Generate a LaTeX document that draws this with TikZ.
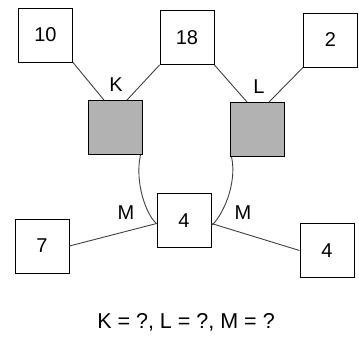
\documentclass[tikz,border=0pt]{standalone}
\usepackage{fontspec}
\setmainfont{Liberation Sans}
\begin{document}
\begin{tikzpicture}[x=1pt,y=-1pt,
  numbox/.style={draw,line width=0.9pt,minimum width=54pt,minimum height=54pt,inner sep=0pt,font=\fontsize{20}{24}\selectfont},
  graybox/.style={numbox,fill=black!30},
  lbl/.style={font=\fontsize{20}{24}\selectfont,inner sep=0pt},
  conn/.style={line width=0.9pt,black!75}]
\useasboundingbox (0,0) rectangle (359,338);
\node[numbox] (n10) at (45.5,35) {10};
\node[numbox] (n18) at (187,37.5) {18};
\node[numbox] (n2) at (330.5,40) {2};
\node[graybox] (k) at (115,127.5) {};
\node[graybox] (l) at (257,129.5) {};
\node[numbox] (c4) at (184,220.5) {4};
\node[numbox] (n7) at (42,246) {7};
\node[numbox] (r4) at (327,250.5) {4};
\node[lbl] (lk) at (116,85) {K};
\node[lbl] (ll) at (259,87) {L};
\node[lbl] (lm1) at (126,213) {M};
\node[lbl] (lm2) at (243,213) {M};
\node[lbl,font=\fontsize{21.5}{24}\selectfont] (cap) at (186,322) {K = ?, L = ?, M = ?};
\draw[conn] (n10.south east) -- ([xshift=-11pt]k.north);
\draw[conn] (n18.south west) -- ([xshift=12pt]k.north);
\draw[conn] (n18.south east) -- ([xshift=-10pt]l.north);
\draw[conn] (n2.south west) -- ([xshift=12pt]l.north);
\draw[conn] ([xshift=-2pt]k.south east) .. controls +(-6,28) and +(-10,-8) .. ([yshift=-3pt]c4.west);
\draw[conn] ([xshift=2pt]l.south west) .. controls +(6,28) and +(10,-8) .. ([yshift=-5pt]c4.east);
\draw[conn] (n7.east) -- ([yshift=-3pt]c4.west);
\draw[conn] ([yshift=-3pt]c4.east) -- (r4.west);
\end{tikzpicture}
\end{document}
